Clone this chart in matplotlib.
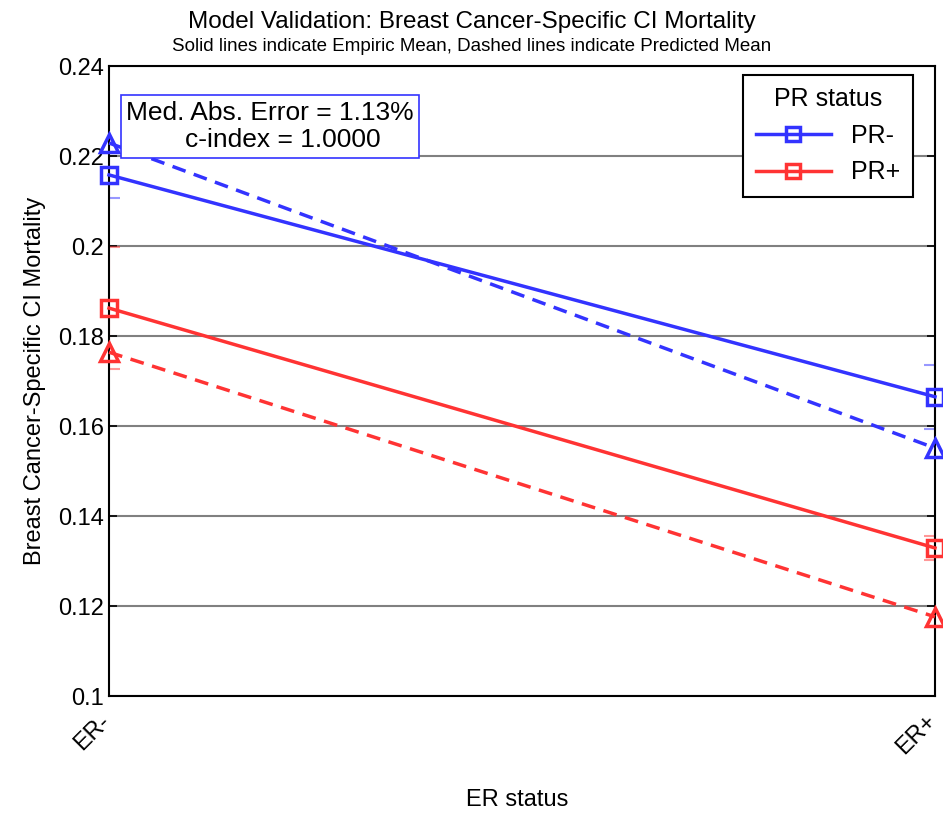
import numpy as np
import matplotlib.pyplot as plt
import matplotlib.transforms as mtrans

plt.rcParams['font.family'] = ['Liberation Sans', 'DejaVu Sans']

er_labels = ['ER-', 'ER+']
er_pos = [1, 2]

# empirical means and predicted means per PR status
emp_pr_neg = [0.2158, 0.1665]
emp_pr_pos = [0.1862, 0.1329]
pred_pr_neg = [0.2229, 0.1551]
pred_pr_pos = [0.1764, 0.1176]
# half-width of error bars on the empirical means
err_pr_neg = [0.0051, 0.0071]
err_pr_pos = [0.0136, 0.0027]

blue = '#3333ff'
red = '#ff3333'

fig = plt.figure(figsize=(9.43, 8.13), dpi=100)
ax = fig.add_axes([0.1156, 0.1439, 0.8759, 0.7749])

for emp, pred, err, col, lab in [(emp_pr_neg, pred_pr_neg, err_pr_neg, blue, 'PR-'),
                                 (emp_pr_pos, pred_pr_pos, err_pr_pos, red, 'PR+')]:
    ax.errorbar(er_pos, emp, yerr=err, fmt='none', ecolor=col, alpha=0.5,
                elinewidth=1.5, capsize=8, capthick=1.5, zorder=2)
    ax.plot(er_pos, emp, '-', color=col, lw=2.5, marker='s', ms=12,
            mfc='none', mew=2.5, label=lab, clip_on=False, zorder=4)
    ax.plot(er_pos, pred, '--', color=col, lw=2.5, marker='^', ms=13,
            mfc='none', mew=2.5, dashes=(4, 2.5), clip_on=False, zorder=4)

ax.set_xlim(1, 2)
ax.set_ylim(0.1, 0.24)
ax.set_yticks(np.arange(0.1, 0.2401, 0.02))
ax.set_yticklabels(['0.1', '0.12', '0.14', '0.16', '0.18', '0.2', '0.22', '0.24'])
ax.set_xticks(er_pos)
ax.set_xticklabels(er_labels, rotation=45, ha='right', rotation_mode='anchor')
ax.tick_params(axis='both', direction='in', length=6, labelsize=17,
               top=True, right=True, width=1.2)
ax.tick_params(axis='x', pad=10)
shift = mtrans.ScaledTranslation(-10 / 100, 0, fig.dpi_scale_trans)
for lbl in ax.get_xticklabels():
    lbl.set_transform(lbl.get_transform() + shift)
ax.yaxis.grid(True, color='#808080', lw=1.5)
ax.set_axisbelow(True)
for s in ax.spines.values():
    s.set_linewidth(1.5)

ax.set_ylabel('Breast Cancer-Specific CI Mortality', fontsize=17, labelpad=9)
fig.text(0.548, 0.016, 'ER status', ha='center', va='center', fontsize=17)

fig.text(0.5, 0.973, 'Model Validation: Breast Cancer-Specific CI Mortality',
         ha='center', va='center', fontsize=17.5)
fig.text(0.5, 0.943, 'Solid lines indicate Empiric Mean, Dashed lines indicate Predicted Mean',
         ha='center', va='center', fontsize=13.5)

ax.text(0.021, 0.945, 'Med. Abs. Error = 1.13%\n        c-index = 1.0000',
        transform=ax.transAxes, fontsize=19, va='top', ha='left', zorder=5,
        linespacing=1.2,
        bbox=dict(boxstyle='square,pad=0.2', fc='white', ec=blue, lw=1.2))

leg = ax.legend(title='PR status', loc='upper right', bbox_to_anchor=(0.973, 0.986),
                fontsize=18, title_fontsize=18, fancybox=False, framealpha=1,
                edgecolor='black', handlelength=3.0, markerscale=0.85,
                borderpad=0.5, labelspacing=0.5, borderaxespad=0)
leg.get_frame().set_linewidth(1.5)

fig.savefig('out.png', dpi=100)
